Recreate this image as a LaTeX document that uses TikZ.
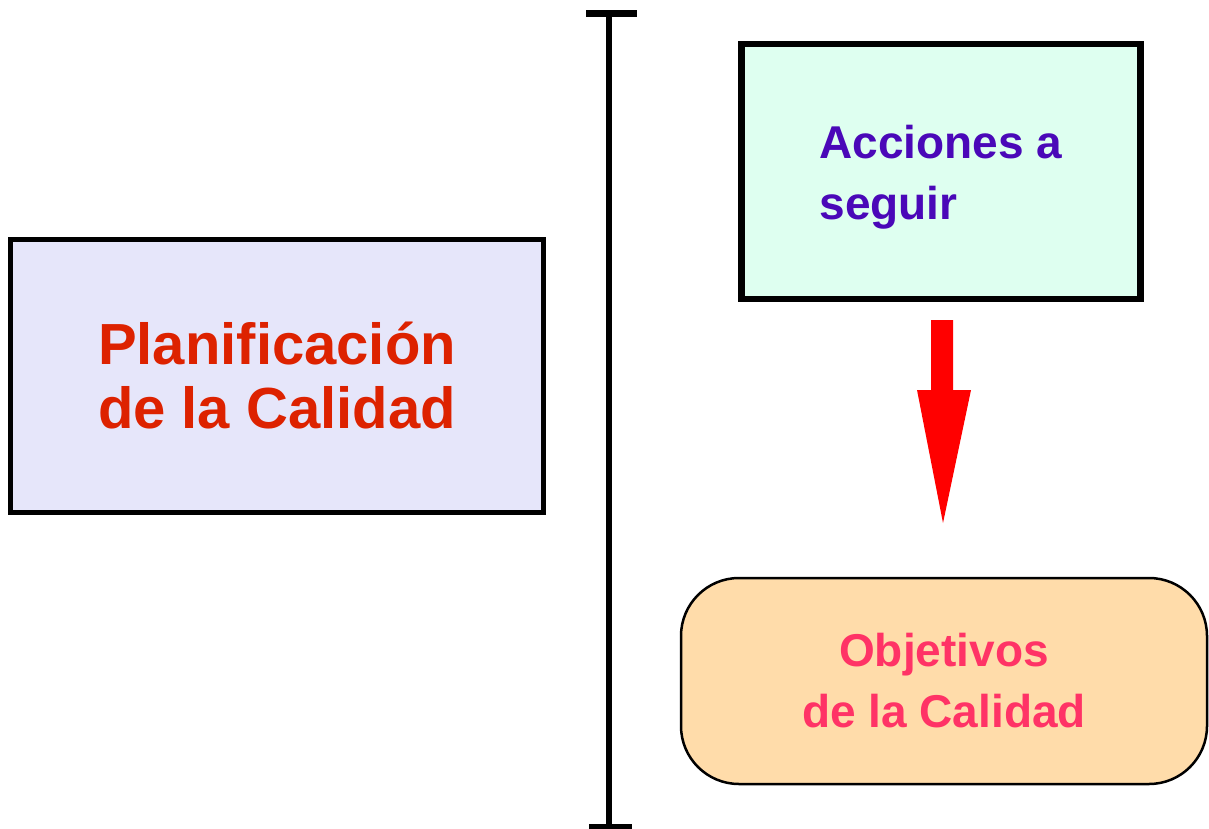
\documentclass[tikz,border=0pt]{standalone}
\usepackage{fontspec}
\setmainfont{Liberation Sans}
\definecolor{lavfill}{RGB}{230,230,250}
\definecolor{mintfill}{RGB}{222,255,240}
\definecolor{peachfill}{RGB}{255,220,170}
\definecolor{plantxt}{RGB}{221,34,0}
\definecolor{acctxt}{RGB}{74,8,184}
\definecolor{objtxt}{RGB}{255,51,102}
\definecolor{arrowred}{RGB}{255,0,0}
\tikzset{
  sqbox/.style={draw=black, rectangle, inner sep=0pt, line join=miter},
  bigtext/.style={font=\bfseries\fontsize{58}{64}\selectfont},
  midtext/.style={font=\bfseries\fontsize{46}{61}\selectfont},
  bar/.style={draw=black, line cap=butt},
}
\begin{document}
\begin{tikzpicture}[x=1pt,y=-1pt]
\useasboundingbox (0,0) rectangle (1209,829);
\fill[white] (0,0) rectangle (1209,829);

% vertical divider
\coordinate (vtop) at (609,13.5);
\coordinate (vbot) at (609,826);
\coordinate (ttl) at (586,13.5);
\coordinate (ttr) at (637,13.5);
\coordinate (btl) at (589,826);
\coordinate (btr) at (632,826);
\draw[bar, line width=6pt] (vtop) -- (vbot);
\draw[bar, line width=7pt] (ttl) -- (ttr);
\draw[bar, line width=5pt] (btl) -- (btr);

% left box
\node[sqbox, line width=5pt, fill=lavfill, minimum width=533pt, minimum height=273pt,
      text=plantxt, bigtext, align=center] (plan) at (277,376)
  {Planificación\\de la Calidad};

% top right box
\node[sqbox, line width=6.5pt, fill=mintfill, minimum width=399pt, minimum height=255pt,
      text=acctxt, midtext, align=left] (acc) at (941,171.5)
  {\rule{0pt}{44pt}Acciones a\\seguir};

% bottom rounded box
\node[sqbox, line width=2.5pt, rounded corners=58pt, fill=peachfill, minimum width=526pt,
      minimum height=206pt, text=objtxt, midtext, align=center] (obj) at (944,681)
  {Objetivos\\de la Calidad};

% red arrow
\coordinate (arrtop) at (942,320);
\coordinate (arrtip) at (943,523);
\fill[arrowred] ([xshift=-11pt]arrtop) -- ([xshift=11pt]arrtop) -- (953,390) -- (971,390)
  -- (arrtip) -- (917,390) -- (931,390) -- cycle;
\end{tikzpicture}
\end{document}
